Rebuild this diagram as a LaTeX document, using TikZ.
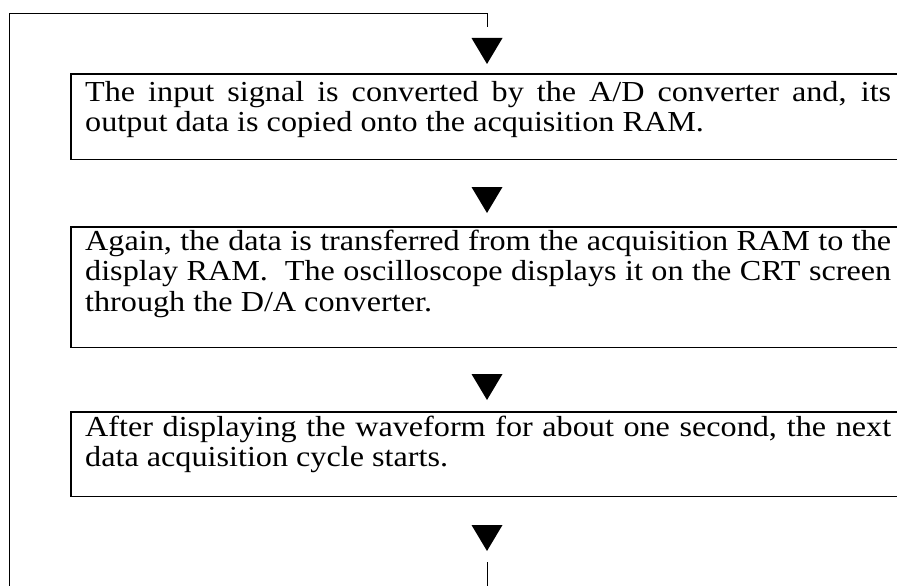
\documentclass[tikz,border=0pt]{standalone}
\usepackage{fontspec}
\setmainfont{Liberation Serif}[FakeStretch=1.11]
\begin{document}
\begin{tikzpicture}[x=1pt,y=-1pt,
  stepbox/.style={anchor=north west, inner xsep=14pt, inner ysep=0pt,
    text width=806pt, align=justify, font=\fontsize{29}{30.5}\selectfont},
  edge/.style={line width=1.3pt},
  loopline/.style={line width=0.9pt},
  head/.style={fill=black}]
\useasboundingbox (0,0) rectangle (897,586);
\coordinate (R) at (897,0);
% boxes
\node[stepbox] (b1) at (71,74) {\rule{0pt}{27pt}The input signal is converted by the A/D converter and, its\linebreak output data is copied onto the acquisition RAM.\rule[-27.5pt]{0pt}{27.5pt}};
\node[stepbox] (b2) at (71,227) {\rule{0pt}{23pt}Again, the data is transferred from the acquisition RAM to the\linebreak display RAM.\ \ The oscilloscope displays it on the CRT screen\linebreak through the D/A converter.\rule[-36pt]{0pt}{36pt}};
\node[stepbox] (b3) at (71,412) {\rule{0pt}{24pt}After displaying the waveform for about one second, the next\linebreak data acquisition cycle starts.\rule[-29.5pt]{0pt}{29.5pt}};
\foreach \b in {b1,b2,b3}{
  \draw[edge] (\b.north west -| R) -- (\b.north west) -- (\b.south west) -- (\b.south west -| R);
}
% arrowheads
\coordinate (t1) at (487,64);
\coordinate (t2) at (487,213);
\coordinate (t3) at (487,400);
\coordinate (t4) at (487,551);
\foreach \t in {t1,t2,t3,t4}{
  \fill[head] (\t) -- ++(-15.5,-26) -- ++(31,0) -- cycle;
}
% feedback loop
\coordinate (lb) at (9.5,586);
\coordinate (lt) at (9.5,13);
\coordinate (rt) at (487,13);
\coordinate (rd) at (487,27);
\coordinate (s1) at (487,562);
\coordinate (s2) at (487,586);
\draw[loopline] (lb) -- (lt) -- (rt) -- (rd);
\draw[loopline] (s1) -- (s2);
\end{tikzpicture}
\end{document}
